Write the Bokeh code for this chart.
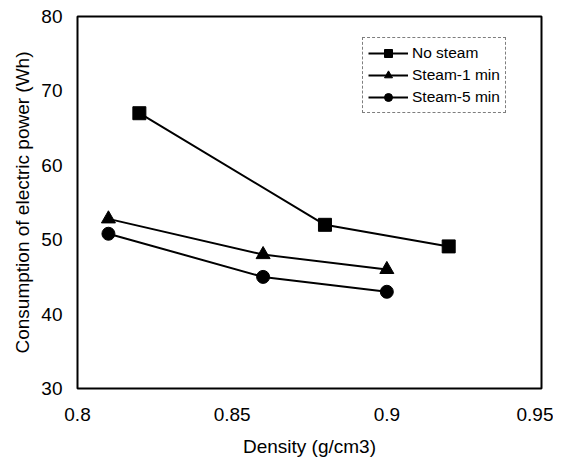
from bokeh.plotting import figure
from bokeh.models import Legend, LegendItem, Range1d, FixedTicker
from bokeh.embed import file_html
from bokeh.resources import INLINE

density_no = [0.82, 0.88, 0.92]
power_no = [67.0, 52.0, 49.1]
density_s1 = [0.81, 0.86, 0.90]
power_s1 = [52.8, 48.0, 46.0]
density_s5 = [0.81, 0.86, 0.90]
power_s5 = [50.8, 45.0, 43.0]
x_ticks = [0.8, 0.85, 0.9, 0.95]
x_tick_labels = {0.8: "0.8", 0.85: "0.85", 0.9: "0.9", 0.95: "0.95"}
y_ticks = [30, 40, 50, 60, 70, 80]

FONT = "Liberation Sans"

p = figure(width=553, height=461, output_backend="svg", toolbar_location=None,
           x_range=Range1d(0.8, 0.95), y_range=Range1d(30, 80))
p.min_border_top = 16
p.min_border_right = 12
p.min_border_left = 77
p.min_border_bottom = 73
p.xgrid.visible = False
p.ygrid.visible = False
p.outline_line_color = "black"
p.outline_line_width = 2
p.background_fill_color = "white"
p.border_fill_color = "white"

for ax in (p.xaxis[0], p.yaxis[0]):
    ax.axis_line_color = None
    ax.major_tick_line_color = None
    ax.minor_tick_line_color = None
    ax.major_tick_out = 0
    ax.major_tick_in = 0
    ax.minor_tick_out = 0
    ax.major_label_text_font = FONT
    ax.major_label_text_font_size = "19px"
    ax.major_label_text_color = "black"
    ax.axis_label_text_font = FONT
    ax.axis_label_text_font_style = "normal"
    ax.axis_label_text_font_size = "19px"
    ax.axis_label_text_color = "black"

p.xaxis.ticker = FixedTicker(ticks=x_ticks)
p.xaxis.major_label_overrides = x_tick_labels
p.yaxis.ticker = FixedTicker(ticks=y_ticks)
p.xaxis.axis_label = "Density (g/cm3)"
p.yaxis.axis_label = "Consumption of electric power (Wh)"
p.xaxis.major_label_standoff = 19
p.yaxis.major_label_standoff = 15
p.xaxis.axis_label_standoff = 12
p.yaxis.axis_label_standoff = 5

l1 = p.line(density_no, power_no, line_color="black", line_width=2)
m1 = p.scatter(density_no, power_no, marker="square", size=13, color="black")
l2 = p.line(density_s1, power_s1, line_color="black", line_width=2)
m2 = p.scatter(density_s1, power_s1, marker="triangle", size=14, color="black")
l3 = p.line(density_s5, power_s5, line_color="black", line_width=2)
m3 = p.scatter(density_s5, power_s5, marker="circle", size=13, color="black")

legend = Legend(items=[
    LegendItem(label="No steam", renderers=[l1, m1]),
    LegendItem(label="Steam-1 min", renderers=[l2, m2]),
    LegendItem(label="Steam-5 min", renderers=[l3, m3]),
], location=(285, 275))
legend.border_line_color = "black"
legend.border_line_dash = "4 2"
legend.border_line_width = 1
legend.label_text_font = FONT
legend.label_text_font_size = "15.5px"
legend.label_text_color = "black"
legend.glyph_width = 40
legend.spacing = 2
legend.padding = 5
legend.margin = 0
legend.label_standoff = 4
legend.background_fill_alpha = 1
p.add_layout(legend, "center")

open("out.html", "w").write(file_html(p, INLINE))
